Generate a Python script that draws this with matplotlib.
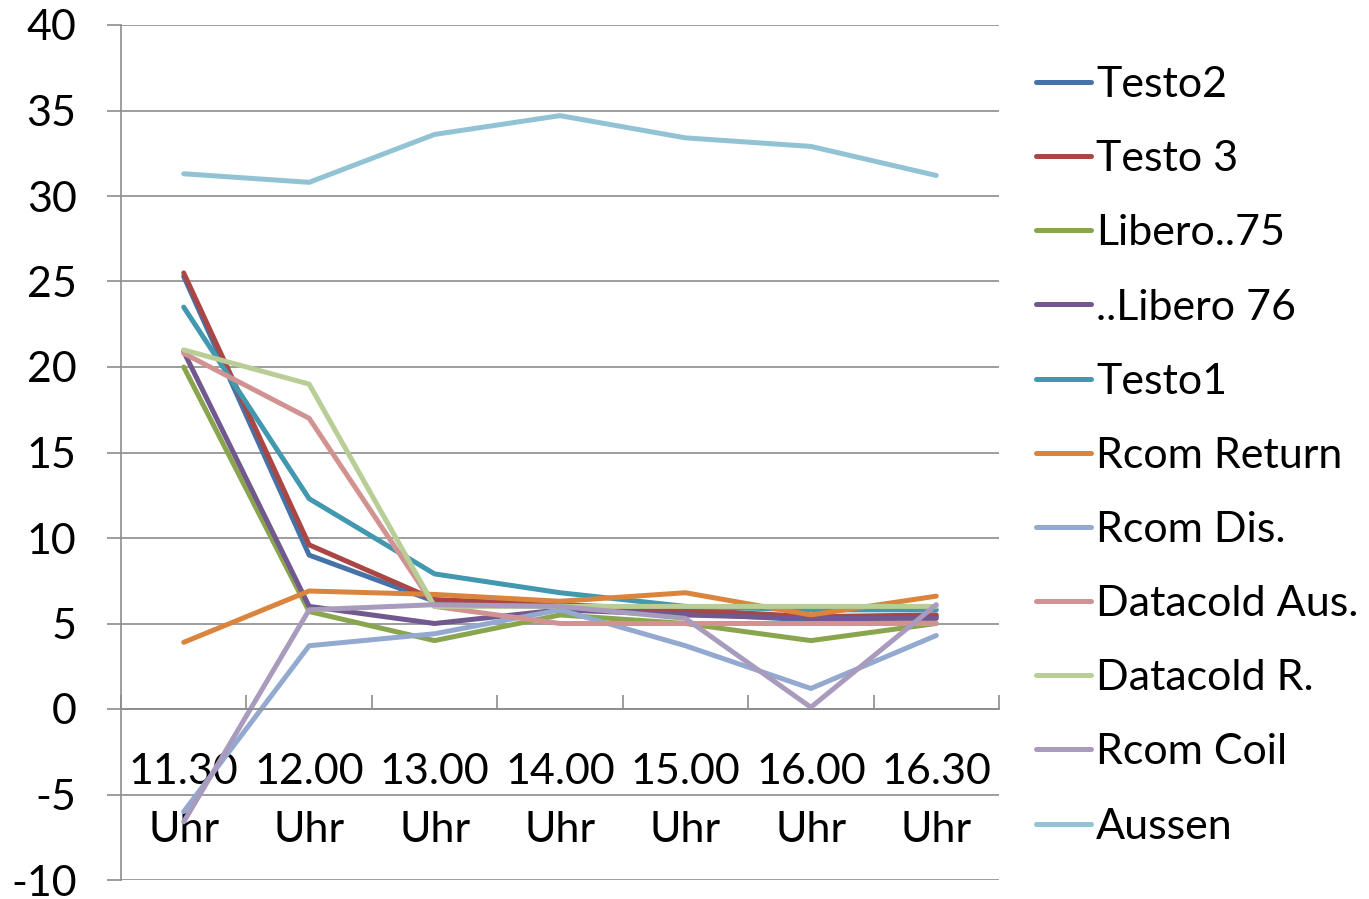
import numpy as np
import matplotlib
matplotlib.use("Agg")
import matplotlib.pyplot as plt
from matplotlib.ticker import FixedLocator, NullFormatter

categories = ["11.30\nUhr", "12.00\nUhr", "13.00\nUhr", "14.00\nUhr",
              "15.00\nUhr", "16.00\nUhr", "16.30\nUhr"]

testo2 = [25.3, 9.0, 6.3, 6.0, 5.6, 5.2, 5.4]
testo3 = [25.5, 9.6, 6.4, 6.1, 5.8, 5.4, 5.5]
libero75 = [20.0, 5.7, 4.0, 5.5, 5.0, 4.0, 5.0]
libero76 = [20.9, 6.0, 5.0, 5.8, 5.5, 5.3, 5.3]
testo1 = [23.5, 12.3, 7.9, 6.8, 6.0, 5.8, 5.8]
rcom_return = [3.9, 6.9, 6.7, 6.3, 6.8, 5.5, 6.6]
rcom_dis = [-6.0, 3.7, 4.4, 5.8, 3.7, 1.2, 4.3]
datacold_aus = [20.8, 17.0, 6.0, 5.0, 5.0, 5.0, 5.0]
datacold_r = [21.0, 19.0, 6.0, 6.0, 6.0, 6.0, 6.0]
rcom_coil = [-6.6, 5.8, 6.1, 6.0, 5.3, 0.1, 6.1]
aussen = [31.3, 30.8, 33.6, 34.7, 33.4, 32.9, 31.2]

series = [
    ("Testo2", testo2, "#4572A7"),
    ("Testo 3", testo3, "#AA4643"),
    ("Libero..75", libero75, "#89A54E"),
    ("..Libero 76", libero76, "#71588F"),
    ("Testo1", testo1, "#4198AF"),
    ("Rcom Return", rcom_return, "#DB843D"),
    ("Rcom Dis.", rcom_dis, "#93A9CF"),
    ("Datacold Aus.", datacold_aus, "#D19392"),
    ("Datacold R.", datacold_r, "#B9CD96"),
    ("Rcom Coil", rcom_coil, "#A99BBD"),
    ("Aussen", aussen, "#92C3D4"),
]

plt.rcParams['font.family'] = ['Lato', 'DejaVu Sans']
plt.rcParams['axes.unicode_minus'] = False
fs = 31
grid_c = "#8c8c8c"

fig = plt.figure(figsize=(13.69, 8.99), dpi=100)
ax = fig.add_axes([121 / 1369, 1 - 880 / 899, (999 - 121) / 1369, (880 - 25) / 899])

x = np.arange(len(categories))
for name, vals, col in series:
    ax.plot(x, vals, color=col, lw=3.6, label=name, solid_capstyle='round',
            solid_joinstyle='round')

ax.set_xlim(-0.5, len(categories) - 0.5)
ax.set_ylim(-10, 40)
ax.set_yticks(np.arange(-10, 41, 5))
ax.yaxis.grid(True, color=grid_c, lw=1.2)
ax.set_axisbelow(True)

for s in ["top", "right"]:
    ax.spines[s].set_visible(False)
ax.spines["left"].set_color(grid_c)
ax.spines["left"].set_linewidth(1.2)
ax.spines["bottom"].set_position(("data", 0))
ax.spines["bottom"].set_color(grid_c)
ax.spines["bottom"].set_linewidth(1.2)

ax.tick_params(axis="y", which="major", length=10, width=1.2, color=grid_c,
               labelsize=fs, pad=22)
# category boundaries as major ticks, labels on minor ticks at centres
ax.xaxis.set_major_locator(FixedLocator(np.arange(-0.5, len(categories), 1.0)))
ax.xaxis.set_major_formatter(NullFormatter())
ax.xaxis.set_minor_locator(FixedLocator(x))
ax.set_xticklabels(categories, minor=True)
ax.tick_params(axis="x", which="major", direction="in", length=10, width=1.2,
               color=grid_c)
ax.tick_params(axis="x", which="minor", length=0, labelsize=fs, pad=32)
for lab in ax.get_xticklabels(minor=True):
    lab.set_linespacing(1.62)

fig.legend(loc="upper left", bbox_to_anchor=(1036 / 1369, 1 - 66 / 899),
           frameon=False, fontsize=fs, handlelength=1.28, handletextpad=0.12,
           labelspacing=0.84, borderpad=0, borderaxespad=0)

fig.savefig("out.png", dpi=100)
